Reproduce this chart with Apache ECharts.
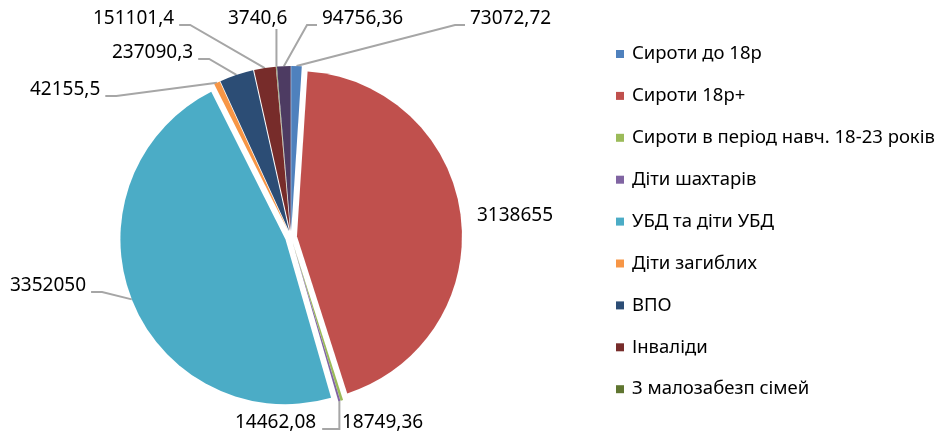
<!DOCTYPE html>
<html>
<head>
<meta charset="utf-8">
<script src="https://cdn.jsdelivr.net/npm/echarts@6.0.0/dist/echarts.min.js"></script>
<style>
  html, body { margin: 0; padding: 0; background: #fff; }
  #chart { width: 937px; height: 434px; }
</style>
</head>
<body>
<div id="chart"></div>
<script>
// categories (the 10th slice has no visible legend entry in the original)
const categories = [
  'Сироти до 18р',
  'Сироти 18р+',
  'Сироти в період навч. 18-23 років',
  'Діти шахтарів',
  'УБД та діти УБД',
  'Діти загиблих',
  'ВПО',
  'Інваліди',
  'З малозабезп сімей',
  'Інші'
];
const values = [73072.72, 3138655, 18749.36, 14462.08, 3352050, 42155.5, 237090.3, 151101.4, 3740.6, 94756.36];
const valueLabels = ['73072,72', '3138655', '18749,36', '14462,08', '3352050', '42155,5', '237090,3', '151101,4', '3740,6', '94756,36'];
const legendNames = categories.slice(0, 9);

const colors = ['#4F81BD', '#C0504D', '#9BBB59', '#8064A2', '#4BACC6', '#F79646', '#2C4D75', '#772C2A', '#5F7530', '#4D3B62'];

// label placement (left x, middle y) and leader line style, as in the original
const labelPos = [
  [470, 19], [477, 216], [342, 423], [235, 423], [10, 286],
  [30, 90], [112, 53], [93, 19], [228, 19], [322, 19]
];
const leaderKind = ['toLeft', 'none', 'none', 'down', 'toRight', 'toRight', 'toRight', 'toRight', 'up', 'toLeft'];

const CENTER = [291, 237];
const R = 165;

function leaderPoints(p) {
  const i = p.dataIndex;
  const [x, y] = labelPos[i];
  const w = p.labelRect.width;
  const a = p.labelLinePoints[0];
  const ly = y + 6;
  switch (leaderKind[i]) {
    case 'toLeft':  return [a, [x - 15, ly], [x - 5, ly]];
    case 'toRight': return [a, [x + w + 16, ly], [x + w + 5, ly]];
    case 'down':    return [a, [a[0], ly], [x + w + 6, ly]];
    case 'up':      return [a, [a[0], y + 10], [a[0], y + 10]];
    default:        return [a, a];
  }
}

const chart = echarts.init(document.getElementById('chart'));

chart.setOption({
  animation: false,
  color: colors,
  legend: {
    data: legendNames,
    orient: 'vertical',
    left: 611,
    top: 39,
    icon: 'rect',
    itemWidth: 8,
    itemHeight: 8,
    itemGap: 21.9,
    selectedMode: false,
    textStyle: { fontFamily: 'Noto Sans', fontSize: 18.5, color: '#000', lineHeight: 20, padding: [0, 0, 0, 3] }
  },
  series: [
    {
      // exploded slices
      type: 'pie',
      center: CENTER,
      radius: R,
      startAngle: 90,
      selectedMode: 'multiple',
      selectedOffset: 6,
      itemStyle: { borderWidth: 0 },
      emphasis: { disabled: true },
      label: { show: false },
      labelLine: { show: false },
      data: categories.map((name, i) => ({ name, value: values[i], selected: true }))
    },
    {
      // value labels and leader lines
      type: 'pie',
      center: CENTER,
      radius: R + 6,
      startAngle: 90,
      silent: true,
      avoidLabelOverlap: false,
      itemStyle: { color: 'rgba(0,0,0,0)', borderWidth: 0 },
      emphasis: { disabled: true },
      label: {
        show: true,
        position: 'outside',
        fontFamily: 'Noto Sans',
        fontSize: 19,
        color: '#000',
        formatter: p => valueLabels[p.dataIndex]
      },
      labelLine: { show: true, length: 10, length2: 10, lineStyle: { color: '#a6a6a6', width: 2 } },
      labelLayout: p => ({
        x: labelPos[p.dataIndex][0],
        y: labelPos[p.dataIndex][1],
        align: 'left',
        verticalAlign: 'middle',
        labelLinePoints: leaderPoints(p)
      }),
      data: categories.map((name, i) => ({
        name,
        value: values[i],
        labelLine: { show: leaderKind[i] !== 'none' }
      }))
    }
  ]
});
</script>
</body>
</html>
